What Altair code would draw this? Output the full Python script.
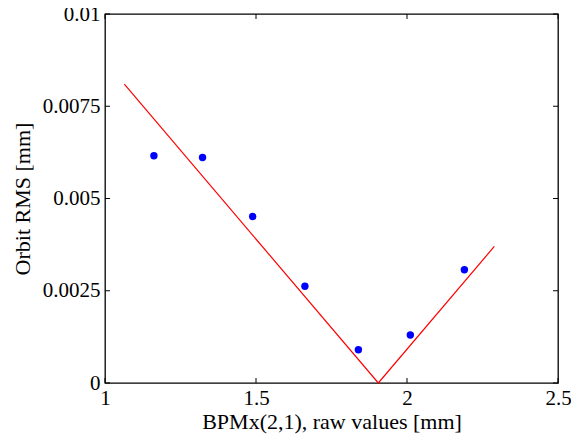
import altair as alt
import pandas as pd

# measured points
pt_x = [1.162, 1.323, 1.489, 1.662, 1.839, 2.011, 2.190]
pt_y = [0.00616, 0.00611, 0.00451, 0.00262, 0.00090, 0.00130, 0.00307]

# fitted V-shaped line
fit_x = [1.064, 1.905, 2.289]
fit_y = [0.00810, 0.0, 0.00370]

x_ticks = [1, 1.5, 2, 2.5]
y_ticks = [0, 0.0025, 0.005, 0.0075, 0.01]

W, H = 453, 369
FONT = "Liberation Serif"
FS = 21
TFS = 22

pts = pd.DataFrame({"x": pt_x, "y": pt_y})
fit = pd.DataFrame({"x": fit_x, "y": fit_y})
xt = pd.DataFrame({"v": x_ticks})
yt = pd.DataFrame({"v": y_ticks})

xscale = alt.Scale(domain=[1, 2.5], nice=False, zero=False)
yscale = alt.Scale(domain=[0, 0.01], nice=False, zero=False)

xaxis = alt.Axis(values=x_ticks, title="BPMx(2,1), raw values [mm]", grid=False,
                 domain=False, ticks=False, labelExpr="format(datum.value, '~g')",
                 labelFont=FONT, labelFontSize=FS, labelColor="black", labelPadding=4,
                 titleFont=FONT, titleFontSize=TFS, titleFontWeight="normal",
                 titleColor="black", titlePadding=3, labelFlush=False)
yaxis = alt.Axis(values=y_ticks, title="Orbit RMS [mm]", grid=False,
                 domain=False, ticks=False, labelExpr="format(datum.value, '~g')",
                 labelFont=FONT, labelFontSize=FS, labelColor="black", labelPadding=5,
                 titleFont=FONT, titleFontSize=TFS, titleFontWeight="normal",
                 titleColor="black", titlePadding=8, labelFlush=False)

line = alt.Chart(fit).mark_line(color="#ff0000", strokeWidth=1.2).encode(
    x=alt.X("x:Q", scale=xscale, axis=xaxis),
    y=alt.Y("y:Q", scale=yscale, axis=yaxis),
)
dots = alt.Chart(pts).mark_circle(color="#0000ff", opacity=1, size=55).encode(
    x=alt.X("x:Q", scale=xscale),
    y=alt.Y("y:Q", scale=yscale),
)

tk = dict(color="black", strokeWidth=1)
left_t = alt.Chart(yt).mark_rule(**tk).encode(
    y=alt.Y("v:Q", scale=yscale), x=alt.value(0), x2=alt.value(5))
right_t = alt.Chart(yt).mark_rule(**tk).encode(
    y=alt.Y("v:Q", scale=yscale), x=alt.value(W - 5), x2=alt.value(W))
bot_t = alt.Chart(xt).mark_rule(**tk).encode(
    x=alt.X("v:Q", scale=xscale), y=alt.value(H - 5), y2=alt.value(H))
top_t = alt.Chart(xt).mark_rule(**tk).encode(
    x=alt.X("v:Q", scale=xscale), y=alt.value(0), y2=alt.value(5))

chart = alt.layer(line, dots, left_t, right_t, bot_t, top_t).properties(
    width=W, height=H,
    background="white",
    autosize=alt.AutoSizeParams(type="none"),
    padding={"left": 97, "top": 6, "right": 13, "bottom": 56},
).configure_view(stroke="black", strokeWidth=1.3)

chart.save("out.html", embed_options={"renderer": "svg", "actions": False})
